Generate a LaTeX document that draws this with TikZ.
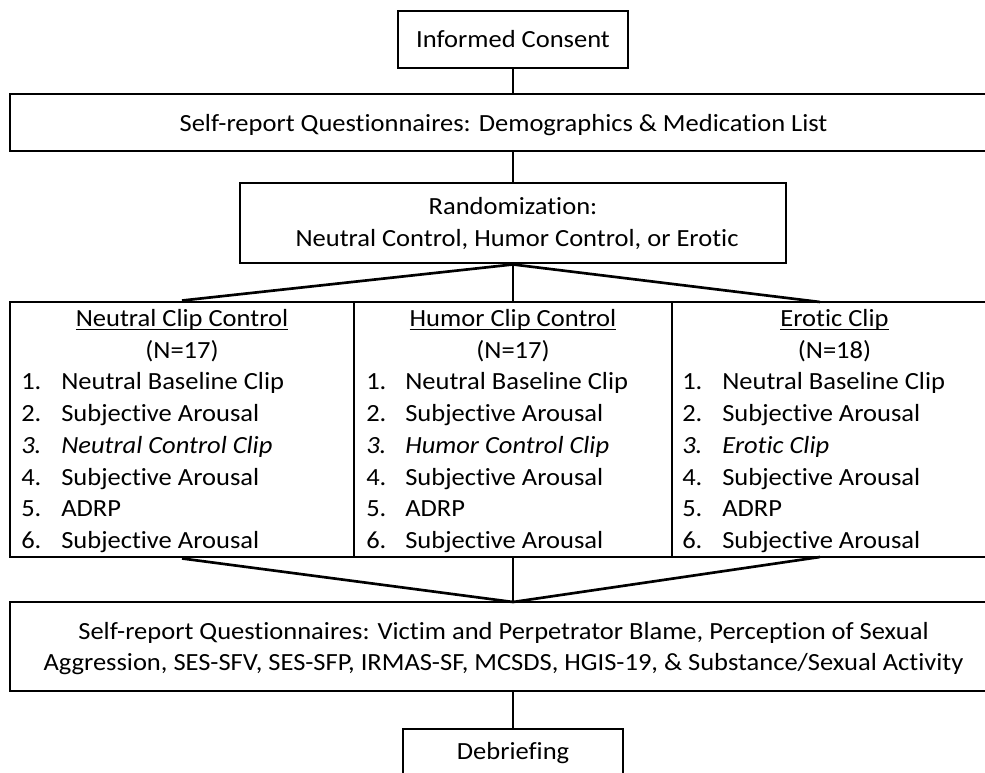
\documentclass[tikz,border=0pt]{standalone}
\usepackage{fontspec}
\setmainfont{Carlito}[FakeStretch=1.075, Ligatures=NoCommon]
\newcommand{\ulx}[1]{\setbox0\hbox{#1}\rlap{\rule[-2.3pt]{\wd0}{1pt}}\box0}
\begin{document}
\begin{tikzpicture}[x=0.75pt,y=-0.75pt,
  box/.style={draw=black, line width=2.2pt, inner sep=0pt},
  conn/.style={draw=black, line width=2pt},
  txt/.style={font=\fontsize{18.5}{23.8}\selectfont, inner sep=0pt},
  ctr/.style={txt, anchor=base},
  lft/.style={txt, anchor=base west},
]
\useasboundingbox (0,0) rectangle (985,773);
\clip (0,0) rectangle (985,773);

% boxes
\node[box, minimum width=230*0.75pt, minimum height=57*0.75pt] (consent) at (513,39.5) {};
\node[box, minimum width=987*0.75pt, minimum height=57*0.75pt] (sr1) at (503.5,122.5) {};
\node[box, minimum width=546*0.75pt, minimum height=80*0.75pt] (rand) at (513,223) {};
\node[box, minimum width=344*0.75pt, minimum height=255*0.75pt] (col1) at (182,429.5) {};
\node[box, minimum width=318*0.75pt, minimum height=255*0.75pt] (col2) at (513,429.5) {};
\node[box, minimum width=325*0.75pt, minimum height=255*0.75pt] (col3) at (834.5,429.5) {};
\node[box, minimum width=987*0.75pt, minimum height=89*0.75pt] (sr2) at (503.5,646.5) {};
\node[box, minimum width=220*0.75pt, minimum height=47*0.75pt] (debrief) at (513,752.5) {};

% texts
\node[ctr] (tconsent) at (513,48) {Informed Consent};
\node[ctr] (tsr1) at (503.5,132) {Self-report Questionnaires: Demographics \& Medication List};
\node[ctr] (trand1) at (513,215) {Randomization:};
\node[ctr] (trand2) at (517,247) {Neutral Control, Humor Control, or Erotic};

\node[ctr] (h1) at (182,327) {\ulx{Neutral Clip Control}};
\node[ctr] (n1) at (182,359) {(N=17)};
\node[ctr] (h2) at (513,327) {\ulx{Humor Clip Control}};
\node[ctr] (n2) at (513,359) {(N=17)};
\node[ctr] (h3) at (834.5,327) {\ulx{Erotic Clip}};
\node[ctr] (n3) at (834.5,359) {(N=18)};

% column 1
\node[lft] (a1) at (21,390) {1.};   \node[lft] (b1) at (61,390) {Neutral Baseline Clip};
\node[lft] (a2) at (21,421.7) {2.}; \node[lft] (b2) at (61,421.7) {Subjective Arousal};
\node[lft] (a3) at (21,453.4) {\itshape 3.}; \node[lft] (b3) at (61,453.4) {\itshape Neutral Control Clip};
\node[lft] (a4) at (21,485.1) {4.}; \node[lft] (b4) at (61,485.1) {Subjective Arousal};
\node[lft] (a5) at (21,516.8) {5.}; \node[lft] (b5) at (61,516.8) {ADRP};
\node[lft] (a6) at (21,548.5) {6.}; \node[lft] (b6) at (61,548.5) {Subjective Arousal};
% column 2
\node[lft] (c1) at (366,390) {1.};   \node[lft] (d1) at (405,390) {Neutral Baseline Clip};
\node[lft] (c2) at (366,421.7) {2.}; \node[lft] (d2) at (405,421.7) {Subjective Arousal};
\node[lft] (c3) at (366,453.4) {\itshape 3.}; \node[lft] (d3) at (405,453.4) {\itshape Humor Control Clip};
\node[lft] (c4) at (366,485.1) {4.}; \node[lft] (d4) at (405,485.1) {Subjective Arousal};
\node[lft] (c5) at (366,516.8) {5.}; \node[lft] (d5) at (405,516.8) {ADRP};
\node[lft] (c6) at (366,548.5) {6.}; \node[lft] (d6) at (405,548.5) {Subjective Arousal};
% column 3
\node[lft] (e1) at (682,390) {1.};   \node[lft] (f1) at (722,390) {Neutral Baseline Clip};
\node[lft] (e2) at (682,421.7) {2.}; \node[lft] (f2) at (722,421.7) {Subjective Arousal};
\node[lft] (e3) at (682,453.4) {\itshape 3.}; \node[lft] (f3) at (722,453.4) {\itshape Erotic Clip};
\node[lft] (e4) at (682,485.1) {4.}; \node[lft] (f4) at (722,485.1) {Subjective Arousal};
\node[lft] (e5) at (682,516.8) {5.}; \node[lft] (f5) at (722,516.8) {ADRP};
\node[lft] (e6) at (682,548.5) {6.}; \node[lft] (f6) at (722,548.5) {Subjective Arousal};

\node[ctr] (tsr2a) at (503.5,639) {Self-report Questionnaires: Victim and Perpetrator Blame, Perception of Sexual};
\node[ctr] (tsr2b) at (503.5,670) {Aggression, SES-SFV, SES-SFP, IRMAS-SF, MCSDS, HGIS-19, \& Substance/Sexual Activity};
\node[ctr] (tdeb) at (513,759) {Debriefing};

% connectors
\coordinate (c3top) at (820,302);
\coordinate (c3bot) at (820,557);
\coordinate (meet) at (513,602);
\draw[conn] (consent.south) -- (consent.south |- sr1.north);
\draw[conn] (rand.north |- sr1.south) -- (rand.north);
\draw[conn] (rand.south) -- (col1.north);
\draw[conn] (rand.south) -- (col2.north);
\draw[conn] (rand.south) -- (c3top);
\draw[conn] (col1.south) -- (meet);
\draw[conn] (col2.south) -- (meet);
\draw[conn] (c3bot) -- (meet);
\draw[conn] (meet |- sr2.south) -- (debrief.north);
\end{tikzpicture}
\end{document}
